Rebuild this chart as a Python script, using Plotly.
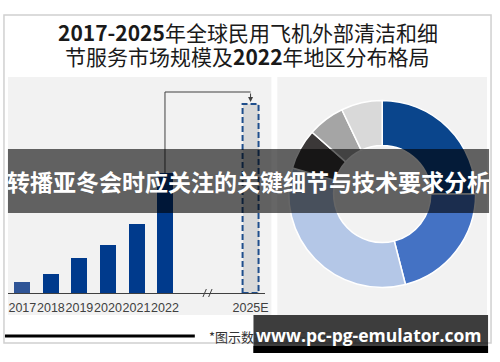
import plotly.graph_objects as go

# ---------------- data ----------------
years = ["2017", "2018", "2019", "2020", "2021", "2022"]
market_size = [1.1, 1.9, 3.5, 4.8, 6.9, 12.0]
forecast_label = "2025E"
forecast_value = 18.9

regions = ["北美", "欧洲", "亚太", "中东", "拉美", "其他"]
region_share = [25.0, 21.0, 33.5, 7.0, 6.4, 7.1]
region_colors = ["#0a458c", "#4472c4", "#b4c7e7", "#3b3838", "#a5a5a5", "#d9d9d9"]

title_line1 = "<b>2017-2025</b>年全球民用飞机外部清洁和细"
title_line2 = "节服务市场规模及<b>2022</b>年地区分布格局"
banner_text = "<b>转播亚冬会时应关注的关键细节与技术要求分析</b>"
footnote = "*图示数据仅用于展示，与具体数值无关"
watermark = "<b>www.pc-pg-emulator.com</b>"

# ---------------- helpers (pixel -> paper) ----------------
W, H = 500, 362
def X(px):
    return px / W
def Y(py):
    return 1 - py / H

pos = list(range(len(years)))
pos_f = len(years) + 2          # gap for the axis break
pos_break = (pos[-1] + pos_f) / 2
bar_w = 0.56

fig = go.Figure()

fig.add_trace(go.Bar(
    x=pos, y=market_size, width=bar_w,
    marker=dict(color=["#2f5496"] + ["#003a8c"] * (len(years) - 1), line=dict(width=0)),
    hoverinfo="skip",
))
fig.add_trace(go.Bar(
    x=[pos_f], y=[forecast_value], width=bar_w,
    marker=dict(color="#d9d9d9", line=dict(width=0)),
    hoverinfo="skip",
))

fig.add_trace(go.Pie(
    labels=regions, values=region_share, sort=False, direction="clockwise",
    rotation=0, hole=0.52, textinfo="none", hoverinfo="skip",
    marker=dict(colors=region_colors, line=dict(color="white", width=1.5)),
    domain=dict(x=[X(290.5), X(478.5)], y=[Y(288), Y(100)]),
))

arrow_top = 20.1
shapes = [
    # outer frame
    dict(type="rect", xref="paper", yref="paper", x0=X(4), x1=X(494), y0=Y(343), y1=Y(15),
         line=dict(color="#d0d0d0", width=1.5), fillcolor="white", layer="below"),
    # panels
    dict(type="rect", xref="paper", yref="paper", x0=X(8), x1=X(273), y0=Y(315), y1=Y(77),
         line=dict(width=0), fillcolor="#f2f2f2", layer="below"),
    dict(type="rect", xref="paper", yref="paper", x0=X(279), x1=X(490), y0=Y(315), y1=Y(77),
         line=dict(width=0), fillcolor="#f2f2f2", layer="below"),
    # dashed outline of forecast bar
    dict(type="rect", xref="x", yref="y", x0=pos_f - bar_w / 2, x1=pos_f + bar_w / 2,
         y0=0, y1=forecast_value, line=dict(color="#1f4e8c", width=2, dash="6px,3px"),
         fillcolor="rgba(0,0,0,0)"),
    # connector line
    dict(type="path", xref="x", yref="y",
         path=f"M {pos[-1]},{market_size[-1]} L {pos[-1]},{arrow_top} L {pos_f},{arrow_top}",
         line=dict(color="#404040", width=1)),
    # axis break slashes
    dict(type="line", xref="x", yref="paper", x0=pos_break - 0.17, x1=pos_break - 0.05,
         y0=Y(297), y1=Y(289), line=dict(color="#404040", width=1)),
    dict(type="line", xref="x", yref="paper", x0=pos_break + 0.03, x1=pos_break + 0.15,
         y0=Y(297), y1=Y(289), line=dict(color="#404040", width=1)),
    # overlay banner
    dict(type="rect", xref="paper", yref="paper", x0=X(8), x1=X(492), y0=Y(213), y1=Y(149),
         line=dict(width=0), fillcolor="rgba(0,0,0,0.6)", layer="above"),
    # bottom thick line
    dict(type="line", xref="paper", yref="paper", x0=X(5), x1=X(196), y0=Y(336), y1=Y(336),
         line=dict(color="black", width=3)),
    # watermark box
    dict(type="rect", xref="paper", yref="paper", x0=X(255), x1=X(491), y0=Y(353), y1=Y(315),
         line=dict(width=0), fillcolor="rgba(0,0,0,0.76)", layer="above"),
    dict(type="rect", xref="paper", yref="paper", x0=X(255), x1=X(491), y0=Y(353), y1=Y(346),
         line=dict(width=0), fillcolor="black", layer="above"),
]

cjk = "Noto Sans CJK SC"
def note(x, y, text, font, xanchor="center"):
    return dict(x=x, y=y, xref="paper", yref="paper", text=text, showarrow=False,
                xanchor=xanchor, yanchor="middle", font=font)

annotations = [
    note(X(249), Y(32), title_line1, dict(family=cjk, size=21, color="#1a1a1a")),
    note(X(249), Y(56), title_line2, dict(family=cjk, size=21, color="#1a1a1a")),
    dict(x=pos_f, y=forecast_value + 0.2, ax=pos_f, ay=arrow_top, xref="x", yref="y",
         axref="x", ayref="y", text="", showarrow=True, arrowhead=2, arrowsize=1,
         arrowwidth=1, arrowcolor="#404040"),
    note(X(208), Y(336), footnote, dict(family=cjk, size=13, color="#333333"), xanchor="left"),
    note(X(250), Y(181), banner_text, dict(family=cjk, size=23, color="white")),
    note(X(371), Y(335), watermark, dict(family="Open Sans", size=17.5, color="white")),
]

fig.update_layout(
    width=W, height=H, autosize=False,
    margin=dict(l=0, r=0, t=0, b=0),
    paper_bgcolor="white", plot_bgcolor="rgba(0,0,0,0)",
    showlegend=False, hovermode=False, bargap=0,
    shapes=shapes, annotations=annotations,
    xaxis=dict(domain=[X(8), X(267)], range=[-0.505, 8.52], showgrid=False, zeroline=False,
               showline=True, linecolor="#404040", linewidth=1, ticks="", tickangle=0,
               ticklabelstandoff=3,
               tickvals=pos + [pos_f], ticktext=years + [forecast_label],
               tickfont=dict(family="Liberation Sans", size=12.5, color="#404040")),
    yaxis=dict(domain=[Y(293), Y(85)], range=[0, 20.8], visible=False, showgrid=False,
               zeroline=False),
)

fig.write_html("out.html", config={"displayModeBar": False},
               post_script="document.body.style.margin='0';")
